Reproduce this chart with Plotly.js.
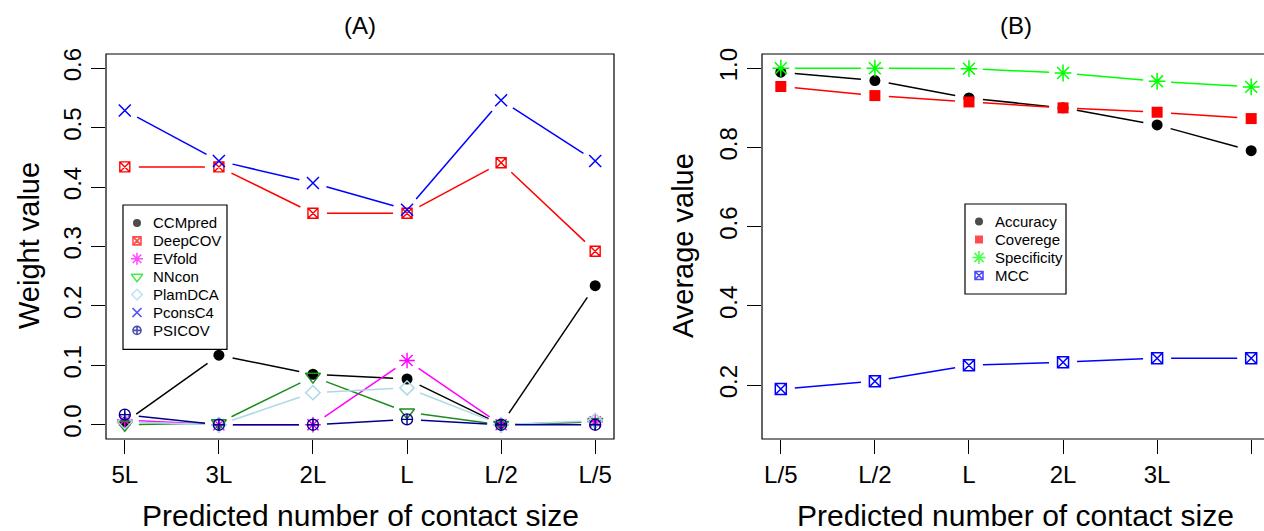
<!DOCTYPE html>
<html><head><meta charset="utf-8">
<script src="https://cdn.plot.ly/plotly-3.0.1.min.js"></script>
<style>html,body{margin:0;padding:0;overflow:hidden;background:#fff}</style>
</head><body><div id="chart" style="width:1264px;height:531px"></div>
<script>
// ---------- data ----------
const sizeLabelsA = ['5L','3L','2L','L','L/2','L/5'];
const sizeLabelsB = ['L/5','L/2','L','2L','3L','5L'];
const ccmpred  = [0.004, 0.117, 0.085, 0.077, 0.000, 0.234];
const deepcov  = [0.434, 0.434, 0.356, 0.356, 0.441, 0.292];
const evfold   = [0.008, 0.000, 0.000, 0.108, 0.000, 0.005];
const nncon    = [0.000, 0.003, 0.081, 0.021, 0.000, 0.005];
const plamdca  = [0.005, 0.000, 0.054, 0.062, 0.000, 0.007];
const pconsc4  = [0.529, 0.444, 0.407, 0.362, 0.546, 0.444];
const psicov   = [0.017, 0.000, 0.000, 0.009, 0.000, 0.000];
const accuracy    = [0.990, 0.969, 0.925, 0.900, 0.857, 0.792];
const coverege    = [0.954, 0.931, 0.915, 0.900, 0.889, 0.873];
const specificity = [1.000, 1.000, 0.999, 0.988, 0.967, 0.953];
const mccValues   = [0.190, 0.210, 0.250, 0.258, 0.268, 0.268];
const yTicksA = [0, 0.1, 0.2, 0.3, 0.4, 0.5, 0.6];
const yTicksB = [0.2, 0.4, 0.6, 0.8, 1.0];

// ---------- geometry ----------
const W = 1264, H = 531;
const FONT = 'Liberation Sans, Arial, sans-serif';
const boxA = {l:106, r:614, t:54, b:439};
const boxB = {l:762, r:1270, t:54, b:439};
const pxPerX = (boxA.r - boxA.l) / 5.4;
const xRangeA = [0.8, 6.2];
const xRangeB = [0.8, 0.8 + (W - boxB.l) / pxPerX];
const yRangeA = [-0.024, 0.624];
const yRangeB = [0.064, 1.036];
const idx = [1,2,3,4,5,6];

function gapped(ys, xr, xlen, yr, ylen, gap) {
  const X = [], Y = [];
  for (let i = 0; i < ys.length - 1; i++) {
    const px0 = (idx[i]-xr[0])/(xr[1]-xr[0])*xlen, px1 = (idx[i+1]-xr[0])/(xr[1]-xr[0])*xlen;
    const py0 = (ys[i]-yr[0])/(yr[1]-yr[0])*ylen, py1 = (ys[i+1]-yr[0])/(yr[1]-yr[0])*ylen;
    const dx = px1-px0, dy = py1-py0, d = Math.hypot(dx, dy);
    if (d <= 2*gap) continue;
    const ux = dx/d, uy = dy/d;
    const s = [px0+ux*gap, py0+uy*gap], e = [px1-ux*gap, py1-uy*gap];
    const toX = p => xr[0] + p/xlen*(xr[1]-xr[0]);
    const toY = p => yr[0] + p/ylen*(yr[1]-yr[0]);
    X.push(toX(s[0]), toX(e[0]), null);
    Y.push(toY(s[1]), toY(e[1]), null);
  }
  return {X, Y};
}

const seriesA = [
  {name:'CCMpred', y:ccmpred, color:'#000000', lcolor:'#000000', symbol:'circle', size:11, lw:0},
  {name:'DeepCOV', y:deepcov, color:'#FF0000', lcolor:'#FF0000', symbol:'square-x-open', size:10, lw:1.4},
  {name:'EVfold', y:evfold, color:'#FF00FF', lcolor:'#FF00FF', symbol:'asterisk-open', size:13, lw:1.4},
  {name:'NNcon', y:nncon, color:'#1E8C1E', lcolor:'#00E000', symbol:'triangle-down-open', size:13, lw:1.5},
  {name:'PlamDCA', y:plamdca, color:'#ADD8E6', lcolor:'#ADD8E6', symbol:'diamond-open', size:11, lw:1.5},
  {name:'PconsC4', y:pconsc4, color:'#0000FF', lcolor:'#0000FF', symbol:'x-thin-open', size:12, lw:1.5},
  {name:'PSICOV', y:psicov, color:'#00008B', lcolor:'#00008B', symbol:'circle-cross-open', size:11, lw:1.4}
];
const seriesB = [
  {name:'Accuracy', y:accuracy, color:'#000000', lcolor:'#000000', symbol:'circle', size:11, lw:0},
  {name:'Coverege', y:coverege, color:'#FF0000', lcolor:'#FF0000', symbol:'square', size:11, lw:0},
  {name:'Specificity', y:specificity, color:'#00FF00', lcolor:'#00FF00', symbol:'asterisk-open', size:14, lw:1.5},
  {name:'MCC', y:mccValues, color:'#0000FF', lcolor:'#0000FF', symbol:'square-x-open', size:11, lw:1.5}
];

const traces = [];
function addSeries(s, xa, ya, xr, xlen, yr, ylen) {
  const g = gapped(s.y, xr, xlen, yr, ylen, 14);
  traces.push({x:g.X, y:g.Y, xaxis:xa, yaxis:ya, mode:'lines', showlegend:false, hoverinfo:'skip',
    line:{color:s.color, width:1.5}, connectgaps:false});
  traces.push({x:idx, y:s.y, xaxis:xa, yaxis:ya, mode:'markers', showlegend:false, name:s.name,
    marker:{symbol:s.symbol, size:s.size, color:s.color, line:{color:s.color, width:s.lw}}});
}
seriesA.forEach(s => addSeries(s, 'x', 'y', xRangeA, boxA.r-boxA.l, yRangeA, boxA.b-boxA.t));
seriesB.forEach(s => addSeries(s, 'x2', 'y2', xRangeB, W-boxB.l, yRangeB, boxB.b-boxB.t));

// ---------- custom legends (R style: symbols only, boxed) ----------
const legA = {l:123, t:205, r:227, first:223, step:17.9};
const legB = {l:965, t:204, r:1066, first:221.5, step:18};
const annotations = [];
const shapes = [];
function addLegend(series, lg) {
  const rows = series.map((s, i) => lg.first + i*lg.step);
  const bottom = rows[rows.length-1] + (lg.first - lg.t) + 1;
  traces.push({x:series.map(() => lg.l + 14), y:rows, xaxis:'x3', yaxis:'y3', mode:'markers',
    showlegend:false, hoverinfo:'skip',
    marker:{symbol:series.map(s => s.symbol), size:series.map(s => Math.round(s.size*0.75)),
      color:series.map(s => s.lcolor), line:{color:series.map(s => s.lcolor), width:series.map(s => s.lw ? 1.6 : 0)}}});
  series.forEach((s, i) => annotations.push({text:s.name, x:(lg.l + 28)/W, y:1 - rows[i]/H,
    xref:'paper', yref:'paper', xanchor:'left', yanchor:'middle', showarrow:false,
    font:{family:FONT, size:15, color:'#000'}}));
  shapes.push({type:'rect', xref:'paper', yref:'paper', x0:lg.l/W, x1:lg.r/W, y0:1-bottom/H, y1:1-lg.t/H,
    line:{color:'#000', width:1.2}, fillcolor:'rgba(0,0,0,0)', layer:'above'});
}
addLegend(seriesA, legA);
addLegend(seriesB, legB);

const tickFont = {family:FONT, size:24, color:'#000'};
function xaxis(domain, range, labels) {
  return {domain, range, tickvals:idx, ticktext:labels, ticks:'outside', ticklen:14, tickwidth:1,
    tickcolor:'#000', showgrid:false, zeroline:false, showline:false, tickfont:tickFont, fixedrange:true};
}
function yaxis(range, tv, anchor) {
  return {domain:[1-boxA.b/H, 1-boxA.t/H], range, tickvals:tv, ticktext:tv.map(v=>v.toFixed(1)),
    ticks:'outside', ticklen:14, tickwidth:1, tickcolor:'#000', tickangle:-90, showgrid:false,
    zeroline:false, showline:false, tickfont:tickFont, anchor, fixedrange:true};
}
const px = v => v / W, py = v => 1 - v / H;
const ann = (text, x, y, size, angle) => ({text, x:px(x), y:py(y), xref:'paper', yref:'paper',
  showarrow:false, xanchor:'center', yanchor:'middle', textangle:angle||0,
  font:{family:FONT, size, color:'#000'}});

shapes.push(
  {type:'rect', xref:'paper', yref:'paper', x0:px(boxA.l), x1:px(boxA.r), y0:py(boxA.b), y1:py(boxA.t), line:{color:'#000', width:1.2}},
  {type:'rect', xref:'paper', yref:'paper', x0:px(boxB.l), x1:px(boxB.r), y0:py(boxB.b), y1:py(boxB.t), line:{color:'#000', width:1.2}}
);
annotations.push(
  ann('(A)', 360, 26, 24), ann('(B)', 1016, 26, 24),
  ann('Predicted number of contact size', 360, 515, 30),
  ann('Predicted number of contact size', 1016, 515, 30),
  ann('Weight value', 29, 246, 29, -90),
  ann('Average value', 683, 246, 29, -90)
);

const layout = {
  width:W, height:H, margin:{l:0, r:0, t:0, b:0}, paper_bgcolor:'#fff', plot_bgcolor:'rgba(0,0,0,0)',
  showlegend:false,
  xaxis: xaxis([px(boxA.l), px(boxA.r)], xRangeA, sizeLabelsA),
  yaxis: yaxis(yRangeA, yTicksA, 'x'),
  xaxis2: Object.assign(xaxis([px(boxB.l), 1], xRangeB, sizeLabelsB), {anchor:'y2'}),
  yaxis2: yaxis(yRangeB, yTicksB, 'x2'),
  xaxis3: {domain:[0,1], range:[0,W], visible:false, anchor:'y3', fixedrange:true},
  yaxis3: {domain:[0,1], range:[H,0], visible:false, anchor:'x3', fixedrange:true},
  shapes, annotations
};
Plotly.newPlot('chart', traces, layout, {staticPlot:true, displayModeBar:false});
</script></body></html>
